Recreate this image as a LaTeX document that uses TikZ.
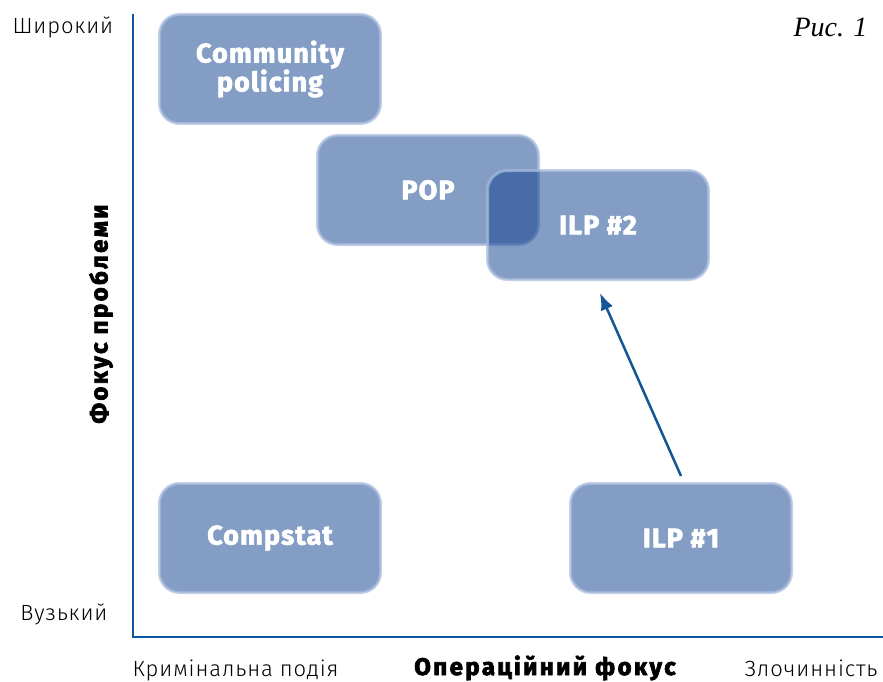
\documentclass[tikz,border=0pt]{standalone}
\usepackage{fontspec}
\setmainfont{Fira Sans}[UprightFont={* Light},BoldFont={* Bold},LetterSpace=4]
\newfontfamily\heavyfont{Fira Sans Bold}[FakeBold=2.5,LetterSpace=4]
\newfontfamily\heavywide{Fira Sans Bold}[FakeBold=3,LetterSpace=10]
\newfontfamily\rmcap{Liberation Serif}
\usetikzlibrary{arrows.meta}
\definecolor{axisblue}{RGB}{13,87,160}
\definecolor{boxfill}{RGB}{10,60,140}
\definecolor{boxline}{RGB}{170,188,222}
\definecolor{arrowblue}{RGB}{20,85,150}
\tikzset{
  field/.style={draw=boxline, draw opacity=0.7, line width=3pt,
    fill=boxfill, fill opacity=0.5, text opacity=1, text=white,
    rounded corners=20pt, minimum width=221pt, minimum height=109pt,
    align=center, font=\fontsize{27}{28}\selectfont\heavyfont},
  axislabel/.style={font=\fontsize{22}{24}\selectfont},
  axistitle/.style={font=\fontsize{24}{26}\selectfont\heavywide}
}
\begin{document}
\begin{tikzpicture}[x=1pt,y=-1pt]
  \useasboundingbox (0,0) rectangle (883,682);
  % axes
  \draw[axisblue, line width=2.2pt] (133,14) -- (133,637) -- (883,637);

  \node[axislabel, anchor=base west] (wide) at (9,34) {Широкий};
  \node[axislabel, anchor=base east] (narrow) at (111,620) {Вузький};
  \node[axislabel, anchor=base west] (event) at (129,676) {Кримінальна подія};
  \node[axislabel, anchor=base east] (crime) at (881,676) {Злочинність};
  \node[axistitle, anchor=base] (xtitle) at (545,675) {Операційний фокус};
  \node[axistitle, rotate=90] (ytitle) at (101,314) {Фокус проблеми};
  \node[anchor=base east, font=\fontsize{28}{30}\selectfont\rmcap\itshape] (fig) at (871,37) {Рис. 1};

  % approaches
  \node[field] (community) at (270,69) {\raisebox{-3pt}{Community}\\policing};
  \node[field] (pop) at (428,190) {POP};
  \node[field] (ilptwo) at (598,225) {ILP \#2};
  \node[field] (compstat) at (270,538) {Compstat};
  \node[field] (ilpone) at (681,538) {ILP \#1};

  \draw[-{Latex[length=17pt,width=13pt]}, arrowblue, line width=2.5pt]
    ([yshift=6pt]ilpone.north) -- ([xshift=2pt,yshift=-12pt]ilptwo.south);
\end{tikzpicture}
\end{document}
